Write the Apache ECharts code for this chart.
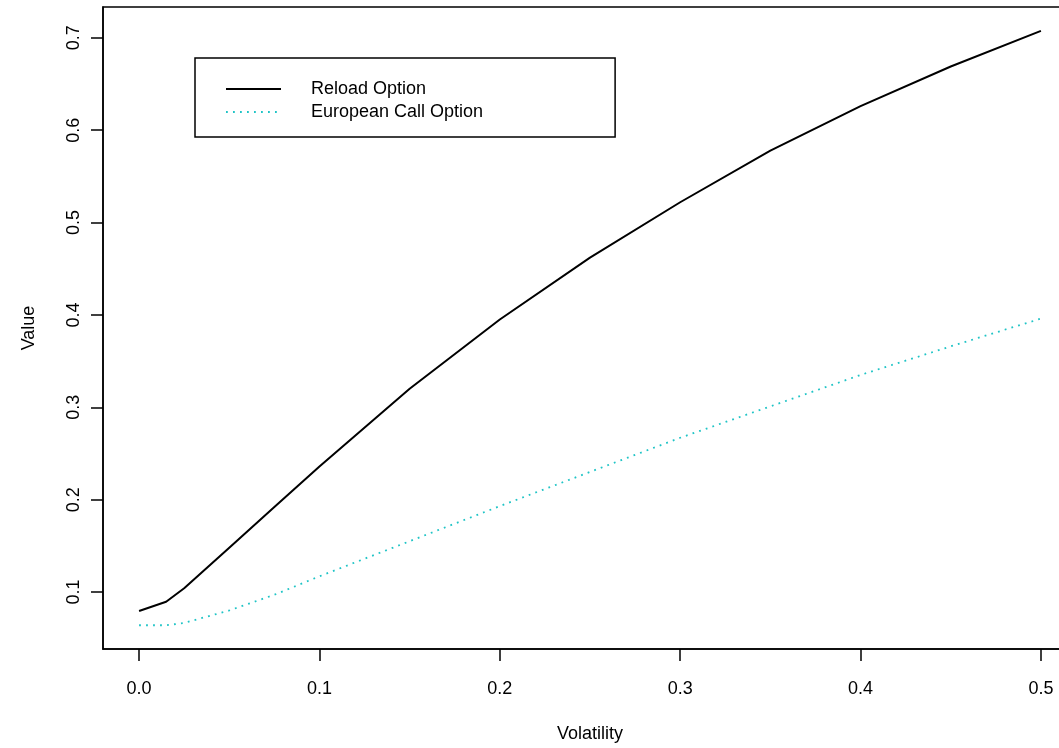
<!DOCTYPE html>
<html>
<head>
<meta charset="utf-8">
<title>Reload vs European Call</title>
<script src="https://cdn.jsdelivr.net/npm/echarts@6.0.0/dist/echarts.min.js"></script>
<style>
  html, body { margin: 0; padding: 0; background: #fff; }
  #main { width: 1059px; height: 748px; }
</style>
</head>
<body>
<div id="main"></div>
<script>
// data
var volatility = [0, 0.015, 0.025, 0.05, 0.075, 0.1, 0.15, 0.2, 0.25, 0.3, 0.35, 0.4, 0.45, 0.5];
var reloadValues = [0.0795, 0.0895, 0.104, 0.148, 0.192, 0.236, 0.320, 0.395, 0.462, 0.522, 0.578, 0.626, 0.669, 0.7076];
var europeanValues = [0.064, 0.064, 0.0665, 0.080, 0.097, 0.117, 0.155, 0.193, 0.230, 0.267, 0.301, 0.335, 0.366, 0.396];
var xTicks = [0, 0.1, 0.2, 0.3, 0.4, 0.5];
var yTicks = [0.1, 0.2, 0.3, 0.4, 0.5, 0.6, 0.7];
var seriesNames = ['Reload Option', 'European Call Option'];

var font = 'Liberation Sans, Arial, sans-serif';

function pairs(xs, ys) {
    var out = [];
    for (var i = 0; i < xs.length; i++) {
        out.push([xs[i], ys[i]]);
    }
    return out;
}

var myChart = echarts.init(document.getElementById('main'));

var option = {
    animation: false,
    backgroundColor: '#fff',
    textStyle: { fontFamily: font },
    grid: {
        left: 103,
        top: 7,
        width: 974, // right edge runs off the page, like the original
        height: 642,
        outerBoundsMode: 'none',
        show: true,
        borderColor: '#000',
        borderWidth: 1.5
    },
    legend: {
        left: 195,
        top: 58,
        orient: 'vertical',
        padding: [22, 132, 16, 30],
        borderColor: '#000',
        borderWidth: 1.5,
        itemWidth: 55,
        itemHeight: 14,
        itemGap: 5,
        itemStyle: { opacity: 0 },
        textStyle: { fontSize: 18, color: '#000', fontFamily: font, padding: [0, 0, 0, 25] },
        data: seriesNames
    },
    xAxis: {
        type: 'value',
        min: -0.02,
        max: 0.52,
        name: 'Volatility',
        nameLocation: 'middle',
        nameGap: 76,
        nameTextStyle: { fontSize: 18, color: '#000', fontFamily: font },
        splitLine: { show: false },
        axisLine: { show: true, onZero: false, lineStyle: { color: '#000', width: 1.5 } },
        axisTick: { show: true, length: 12, customValues: xTicks, lineStyle: { color: '#000', width: 1.5 } },
        axisLabel: {
            customValues: xTicks,
            margin: 31,
            fontSize: 18,
            color: '#000',
            fontFamily: font,
            formatter: function(v) { return v.toFixed(1); }
        }
    },
    yAxis: {
        type: 'value',
        min: 0.0383,
        max: 0.7334,
        name: 'Value',
        nameLocation: 'middle',
        nameRotate: 90,
        nameGap: 65,
        nameTextStyle: { fontSize: 18, color: '#000', fontFamily: font },
        splitLine: { show: false },
        axisLine: { show: true, onZero: false, lineStyle: { color: '#000', width: 1.5 } },
        axisTick: { show: true, length: 12, customValues: yTicks, lineStyle: { color: '#000', width: 1.5 } },
        axisLabel: {
            customValues: yTicks,
            rotate: 90,
            margin: 20,
            fontSize: 18,
            color: '#000',
            fontFamily: font,
            formatter: function(v) { return v.toFixed(1); }
        }
    },
    series: [{
        name: seriesNames[0],
        type: 'line',
        symbol: 'none',
        data: pairs(volatility, reloadValues),
        lineStyle: { color: '#000', width: 2 },
        itemStyle: { color: '#000' }
    }, {
        name: seriesNames[1],
        type: 'line',
        symbol: 'none',
        data: pairs(volatility, europeanValues),
        lineStyle: { color: '#1fc4c6', width: 1.8, type: [1.8, 5.2] },
        itemStyle: { color: '#1fc4c6' }
    }]
};

myChart.setOption(option);
</script>
</body>
</html>
